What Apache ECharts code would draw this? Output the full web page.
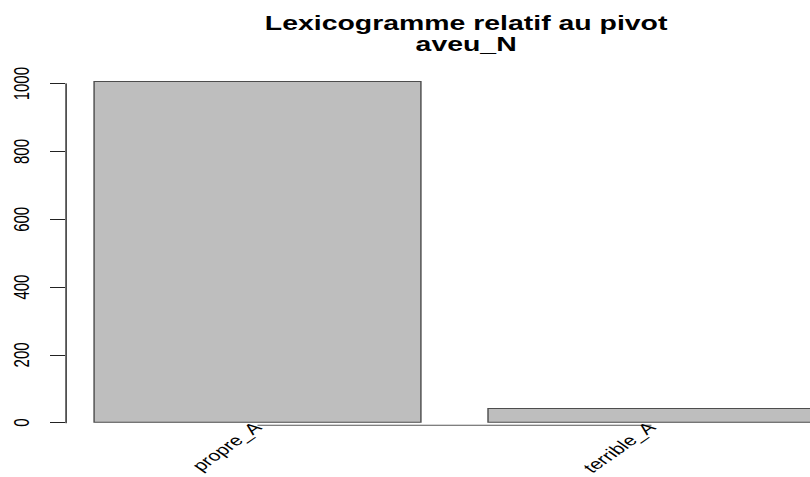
<!DOCTYPE html>
<html><head><meta charset="utf-8">
<script src="https://cdn.jsdelivr.net/npm/echarts@6/dist/echarts.min.js"></script>
<style>
html,body{margin:0;padding:0;overflow:hidden;background:#fff;width:810px;height:477px}
#clip{width:810px;height:477px;overflow:hidden;position:relative}
#chart{width:620px;height:477px;transform:scaleX(1.4211);transform-origin:0 0;}
</style>
</head><body><div id="clip"><div id="chart"></div></div>
<script>
const titleLines = ['Lexicogramme relatif au pivot', 'aveu_N'];
const categories = ['propre_A', 'terrible_A'];
const values = [1008, 43];
const yTicks = [0, 200, 400, 600, 800, 1000];

const FONT = "'Liberation Sans', Arial, Helvetica, sans-serif";
const chart = echarts.init(document.getElementById('chart'), null, {renderer: 'svg'});
chart.setOption({
  animation: false,
  backgroundColor: '#fff',
  title: {
    text: titleLines.join('\n'),
    left: 323, top: 8, textAlign: 'center',
    textStyle: {fontFamily: FONT, fontSize: 20, fontWeight: 'bold', color: '#000', lineHeight: 21}
  },
  grid: {left: 42.6, top: 83.7, width: 554.4, height: 339, containLabel: false, outerBoundsMode: 'none'},
  xAxis: {
    type: 'category', data: categories, boundaryGap: true,
    axisLine: {show: false}, axisTick: {show: false},
    axisLabel: {interval: 0, rotate: 45, margin: 2, fontSize: 15, color: '#000', fontFamily: FONT}
  },
  yAxis: {
    type: 'value', min: yTicks[0], max: yTicks[yTicks.length - 1], interval: yTicks[1] - yTicks[0],
    offset: -3.2,
    axisLine: {show: true, lineStyle: {color: '#222', width: 1}},
    axisTick: {show: true, length: 10.6, lineStyle: {color: '#222', width: 1}},
    axisLabel: {rotate: 90, margin: 23, fontSize: 15, color: '#000', fontFamily: FONT,
      formatter: function (v) { return String(v); }},
    splitLine: {show: false}
  },
  series: [{
    type: 'bar', data: values, barCategoryGap: '16.667%', clip: false, silent: true,
    itemStyle: {color: '#bebebe', borderColor: '#4d4d4d', borderWidth: 1}
  }]
});
const p0 = chart.convertToPixel({gridIndex: 0}, [0, 0]);
const p1 = chart.convertToPixel({gridIndex: 0}, [categories.length - 1, 0]);
chart.setOption({
  graphic: [{
    type: 'line', silent: true,
    shape: {x1: p0[0], y1: p0[1] + 2.5, x2: p1[0], y2: p1[1] + 2.5},
    style: {stroke: '#555', lineWidth: 1}
  }]
});
</script></body></html>
